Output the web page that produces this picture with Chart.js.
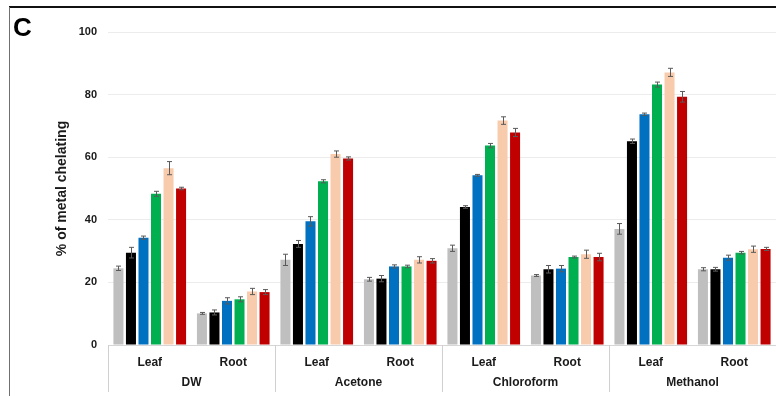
<!DOCTYPE html>
<html>
<head>
<meta charset="utf-8">
<script src="https://cdn.jsdelivr.net/npm/chart.js@4/dist/chart.umd.min.js"></script>
<style>
  html, body { margin: 0; padding: 0; background: #ffffff; }
  #wrap { width: 776px; height: 396px; position: relative; }
</style>
</head>
<body>
<div id="wrap"><canvas id="c" width="776" height="396"></canvas></div>
<script>
// Plant part per bar group, and the solvent each pair of groups belongs to
const categories = ['Leaf', 'Root', 'Leaf', 'Root', 'Leaf', 'Root', 'Leaf', 'Root'];
const solvents = ['DW', 'Acetone', 'Chloroform', 'Methanol'];
const yTicks = [0, 20, 40, 60, 80, 100];

// Metal chelating activity (%) for each of the six treatments
const grayValues  = [24.5, 10.1, 27.2, 21.0, 30.9, 22.2, 37.1, 24.2];
const blackValues = [29.5, 10.4, 32.3, 21.2, 44.1, 24.2, 65.1, 24.2];
const blueValues  = [34.3, 14.1, 39.5, 25.1, 54.2, 24.4, 73.7, 27.9];
const greenValues = [48.3, 14.6, 52.3, 25.1, 63.7, 28.1, 83.2, 29.5];
const peachValues = [56.5, 17.1, 61.0, 27.2, 71.7, 29.0, 87.1, 30.6];
const redValues   = [50.0, 16.9, 59.6, 26.9, 67.9, 28.1, 79.3, 30.7];

// Standard errors matching the series above
const grayErr  = [0.7, 0.3, 1.8, 0.6, 1.0, 0.3, 1.7, 0.5];
const blackErr = [1.7, 0.8, 1.1, 1.0, 0.4, 1.2, 0.7, 0.6];
const blueErr  = [0.5, 1.0, 1.5, 0.5, 0.3, 1.0, 0.4, 0.8];
const greenErr = [0.8, 0.8, 0.5, 0.4, 0.7, 0.3, 0.8, 0.4];
const peachErr = [2.1, 1.0, 1.0, 1.0, 1.2, 1.3, 1.3, 1.0];
const redErr   = [0.4, 0.8, 0.5, 0.7, 1.3, 1.2, 1.7, 0.5];

const FONT = '"Liberation Sans", Arial, sans-serif';

function series(label, data, err, color) {
  return {
    label: label,
    data: data,
    errors: err,
    backgroundColor: color,
    borderWidth: 0,
    categoryPercentage: 0.9,
    barPercentage: 0.8
  };
}

// Error bars with small caps, drawn from each bar's own position
const errorBars = {
  id: 'errorBars',
  afterDatasetsDraw(chart) {
    const ctx = chart.ctx;
    const y = chart.scales.y;
    ctx.save();
    ctx.strokeStyle = '#5a5a5a';
    ctx.lineWidth = 1;
    chart.data.datasets.forEach((ds, di) => {
      const meta = chart.getDatasetMeta(di);
      meta.data.forEach((bar, i) => {
        const v = ds.data[i], e = ds.errors[i];
        const x = Math.round(bar.x) + 0.5;
        const yHi = y.getPixelForValue(v + e);
        const yLo = y.getPixelForValue(v - e);
        ctx.beginPath();
        ctx.moveTo(x, yHi); ctx.lineTo(x, yLo);
        ctx.moveTo(x - 2.5, yHi); ctx.lineTo(x + 2.5, yHi);
        ctx.moveTo(x - 2.5, yLo); ctx.lineTo(x + 2.5, yLo);
        ctx.stroke();
      });
    });
    ctx.restore();
  }
};

// Solvent labels under the plant-part labels, with separators between solvents
const solventAxis = {
  id: 'solventAxis',
  afterDraw(chart) {
    const ctx = chart.ctx;
    const x = chart.scales.x;
    const bottom = chart.chartArea.bottom;
    const step = (x.right - x.left) / categories.length;
    const per = categories.length / solvents.length;
    ctx.save();
    ctx.strokeStyle = '#d0d0d0';
    ctx.lineWidth = 1;
    for (let k = 0; k <= solvents.length; k++) {
      const px = Math.round(x.left + k * per * step) + 0.5;
      ctx.beginPath();
      ctx.moveTo(px, bottom);
      ctx.lineTo(px, 392);
      ctx.stroke();
    }
    ctx.fillStyle = '#1a1a1a';
    ctx.font = 'bold 12px ' + FONT;
    ctx.textAlign = 'center';
    ctx.textBaseline = 'middle';
    solvents.forEach((s, k) => {
      const cx = x.left + (k + 0.5) * per * step;
      ctx.fillText(s, cx, 383);
    });
    ctx.restore();
  }
};

// Panel frame and panel letter
const panelFrame = {
  id: 'panelFrame',
  afterDraw(chart) {
    const ctx = chart.ctx;
    ctx.save();
    ctx.strokeStyle = '#111111';
    ctx.lineWidth = 2;
    ctx.beginPath();
    ctx.moveTo(9, 7); ctx.lineTo(776, 7);
    ctx.stroke();
    ctx.strokeStyle = '#707070';
    ctx.lineWidth = 1;
    ctx.beginPath();
    ctx.moveTo(9.5, 7); ctx.lineTo(9.5, 396);
    ctx.stroke();
    ctx.fillStyle = '#000000';
    ctx.font = 'bold 26px ' + FONT;
    ctx.textAlign = 'left';
    ctx.textBaseline = 'alphabetic';
    ctx.fillText('C', 13, 36);
    ctx.restore();
  }
};

new Chart(document.getElementById('c'), {
  type: 'bar',
  data: {
    labels: categories,
    datasets: [
      series('Series 1', grayValues,  grayErr,  '#bfbfbf'),
      series('Series 2', blackValues, blackErr, '#000000'),
      series('Series 3', blueValues,  blueErr,  '#0070c0'),
      series('Series 4', greenValues, greenErr, '#00b050'),
      series('Series 5', peachValues, peachErr, '#f8cbad'),
      series('Series 6', redValues,   redErr,   '#c00000')
    ]
  },
  options: {
    responsive: false,
    animation: false,
    devicePixelRatio: 1,
    layout: { padding: { left: 50, top: 32, right: 0, bottom: 0 } },
    plugins: {
      legend: { display: false },
      tooltip: { enabled: false }
    },
    scales: {
      x: {
        grid: { display: true, drawOnChartArea: false, drawTicks: false },
        border: { display: true, color: '#d6d6d6', width: 1 },
        ticks: {
          color: '#1a1a1a',
          font: { family: FONT, size: 12, weight: 'bold' },
          padding: 10,
          maxRotation: 0
        },
        afterFit(scale) { scale.height = 51; }
      },
      y: {
        min: 0,
        max: 100,
        afterBuildTicks(scale) { scale.ticks = yTicks.map(v => ({ value: v })); },
        grid: { color: '#ececec', drawTicks: false },
        border: { display: false },
        ticks: {
          color: '#1a1a1a',
          font: { family: FONT, size: 11, weight: 'bold' },
          padding: 11
        },
        title: {
          display: true,
          text: '% of metal chelating',
          color: '#1a1a1a',
          font: { family: FONT, size: 14, weight: 'bold' },
          padding: { top: 4, bottom: 4 }
        },
        afterFit(scale) { scale.width = 58; }
      }
    }
  },
  plugins: [errorBars, solventAxis, panelFrame]
});
</script>
</body>
</html>
